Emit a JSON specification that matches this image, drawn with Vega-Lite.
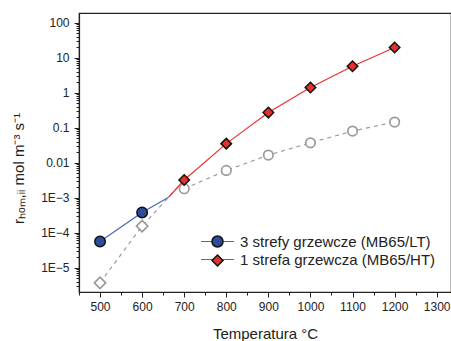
{
  "$schema": "https://vega.github.io/schema/vega-lite/v6.json",
  "width": 372,
  "height": 279,
  "autosize": {"type": "none"},
  "padding": {"left": 79, "top": 13, "right": 0, "bottom": 49},
  "background": "white",
  "config": {
    "view": {"stroke": "#222", "strokeWidth": 1.2},
    "font": "Liberation Sans",
    "legend": {"padding": 0},
    "axis": {"domainColor": "#222", "tickColor": "#222", "labelColor": "#222", "titleColor": "#222", "grid": false, "labelFont": "Liberation Sans", "titleFont": "Liberation Sans", "titleFontWeight": "normal"}
  },
  "data": {
    "values": [
      {"T": 500, "r": 0.000056, "s": "3 strefy grzewcze (MB65/LT)", "p": "3 strefy grzewcze (MB65/LT) ", "m": 1},
      {"T": 600, "r": 0.00038, "s": "3 strefy grzewcze (MB65/LT)", "p": "3 strefy grzewcze (MB65/LT) ", "m": 1},
      {"T": 663, "r": 0.00103, "s": "3 strefy grzewcze (MB65/LT)", "p": "3 strefy grzewcze (MB65/LT) ", "m": 0},
      {"T": 663, "r": 0.00103, "s": "1 strefa grzewcza (MB65/HT)", "p": "1 strefa grzewcza (MB65/HT) ", "m": 0},
      {"T": 700, "r": 0.0032, "s": "1 strefa grzewcza (MB65/HT)", "p": "1 strefa grzewcza (MB65/HT) ", "m": 1},
      {"T": 800, "r": 0.035, "s": "1 strefa grzewcza (MB65/HT)", "p": "1 strefa grzewcza (MB65/HT) ", "m": 1},
      {"T": 900, "r": 0.27, "s": "1 strefa grzewcza (MB65/HT)", "p": "1 strefa grzewcza (MB65/HT) ", "m": 1},
      {"T": 1000, "r": 1.4, "s": "1 strefa grzewcza (MB65/HT)", "p": "1 strefa grzewcza (MB65/HT) ", "m": 1},
      {"T": 1100, "r": 5.7, "s": "1 strefa grzewcza (MB65/HT)", "p": "1 strefa grzewcza (MB65/HT) ", "m": 1},
      {"T": 1200, "r": 19.5, "s": "1 strefa grzewcza (MB65/HT)", "p": "1 strefa grzewcza (MB65/HT) ", "m": 1},
      {"T": 500, "r": 0.0000037, "s": "grayD", "p": "grayD", "m": 1},
      {"T": 600, "r": 0.000154, "s": "grayD", "p": "grayD", "m": 1},
      {"T": 700, "r": 0.0032, "s": "grayD", "p": "grayD", "m": 0},
      {"T": 700, "r": 0.0018, "s": "grayC", "p": "grayC", "m": 1},
      {"T": 800, "r": 0.006, "s": "grayC", "p": "grayC", "m": 1},
      {"T": 900, "r": 0.0165, "s": "grayC", "p": "grayC", "m": 1},
      {"T": 1000, "r": 0.037, "s": "grayC", "p": "grayC", "m": 1},
      {"T": 1100, "r": 0.08, "s": "grayC", "p": "grayC", "m": 1},
      {"T": 1200, "r": 0.145, "s": "grayC", "p": "grayC", "m": 1}
    ]
  },
  "resolve": {"axis": {"x": "independent", "y": "independent"}},
  "layer": [
    {
      "transform": [{"filter": "datum.s == 'grayD' || datum.s == 'grayC'"}],
      "mark": {"type": "line", "color": "#9a9a9a", "strokeWidth": 1.2, "strokeDash": [4, 4]},
      "encoding": {
        "x": {"field": "T", "type": "quantitative", "scale": {"domain": [450, 1334], "nice": false, "zero": false},
          "axis": {"orient": "bottom", "values": [450, 550, 650, 750, 850, 950, 1050, 1150, 1250], "labels": false, "tickSize": 3, "domain": false, "title": null}},
        "y": {"field": "r", "type": "quantitative", "scale": {"type": "log", "domain": [0.00000202, 189], "nice": false},
          "axis": {"orient": "left", "values": [0.000003, 0.000004, 0.000005, 0.000006, 0.000007, 0.000008, 0.000009, 0.00002, 0.00003, 0.00004, 0.00005, 0.00006, 0.00007, 0.00008, 0.00009, 0.0002, 0.0003, 0.0004, 0.0005, 0.0006, 0.0007, 0.0008, 0.0009, 0.002, 0.003, 0.004, 0.005, 0.006, 0.007, 0.008, 0.009, 0.02, 0.03, 0.04, 0.05, 0.06, 0.07, 0.08, 0.09, 0.2, 0.3, 0.4, 0.5, 0.6, 0.7, 0.8, 0.9, 2, 3, 4, 5, 6, 7, 8, 9, 20, 30, 40, 50, 60, 70, 80, 90], "labels": false, "tickSize": 3, "domain": false, "title": null}},
        "detail": {"field": "s"}
      }
    },
    {
      "transform": [{"filter": "datum.s != 'grayD' && datum.s != 'grayC'"}],
      "mark": {"type": "line", "strokeWidth": 1.2},
      "encoding": {
        "x": {"field": "T", "type": "quantitative",
          "axis": {"orient": "bottom", "values": [500, 600, 700, 800, 900, 1000, 1100, 1200, 1300], "format": "d", "tickSize": 5, "labelFontSize": 12, "labelPadding": 4, "title": "Temperatura °C", "titleFontSize": 15, "titlePadding": 14, "domainWidth": 1.2}},
        "y": {"field": "r", "type": "quantitative",
          "axis": {"orient": "left", "values": [0.00001, 0.0001, 0.001, 0.01, 0.1, 1, 10, 100], "tickSize": 5, "labelFontSize": 12, "labelPadding": 5,
            "labelExpr": "datum.value >= 0.01 ? format(datum.value, '~g') : '1E' + format(round(log(datum.value) / LN10), 'd')",
            "title": "rₕₒₘ,ᵢᵢ  mol m⁻³ s⁻¹", "titleFontSize": 15, "titlePadding": 14, "titleY": 155, "domainWidth": 1.2}},
        "stroke": {"field": "s", "type": "nominal", "sort": null,
          "scale": {"domain": ["3 strefy grzewcze (MB65/LT)", "1 strefa grzewcza (MB65/HT)"], "range": ["#4a64c0", "#f03030"]},
          "legend": {"orient": "none", "legendX": 131, "legendY": 221, "title": null, "symbolType": "M-3,0H3", "symbolSize": 121, "symbolStrokeWidth": 1.2, "labelFontSize": 15, "labelColor": "#222", "labelOffset": 15, "labelLimit": 400, "rowPadding": 2}}
      }
    },
    {
      "transform": [{"filter": "datum.s == 'grayD' && datum.m == 1"}],
      "mark": {"type": "point", "shape": "diamond", "filled": true, "fill": "white", "fillOpacity": 1, "opacity": 1, "stroke": "#9a9a9a", "strokeWidth": 1.7, "size": 130},
      "encoding": {"x": {"field": "T", "type": "quantitative", "axis": null}, "y": {"field": "r", "type": "quantitative", "axis": null}}
    },
    {
      "transform": [{"filter": "datum.s == 'grayC' && datum.m == 1"}],
      "mark": {"type": "point", "shape": "circle", "filled": true, "fill": "white", "fillOpacity": 1, "opacity": 1, "stroke": "#9a9a9a", "strokeWidth": 1.7, "size": 90},
      "encoding": {"x": {"field": "T", "type": "quantitative", "axis": null}, "y": {"field": "r", "type": "quantitative", "axis": null}}
    },
    {
      "transform": [{"filter": "datum.s != 'grayD' && datum.s != 'grayC' && datum.m == 1"}],
      "mark": {"type": "point", "filled": true, "stroke": "#111", "strokeWidth": 1.5, "opacity": 1, "size": 110},
      "encoding": {
        "x": {"field": "T", "type": "quantitative", "axis": null},
        "y": {"field": "r", "type": "quantitative", "axis": null},
        "fill": {"field": "p", "type": "nominal", "sort": null,
          "scale": {"domain": ["3 strefy grzewcze (MB65/LT) ", "1 strefa grzewcza (MB65/HT) "], "range": ["#2c4c9c", "#e8302a"]},
          "legend": {"orient": "none", "legendX": 131, "legendY": 221, "title": null, "symbolSize": 121, "labelFontSize": 15, "labelColor": "transparent", "labelOffset": 15, "labelLimit": 400, "rowPadding": 2,
            "encode": {"symbols": {"update": {"stroke": {"value": "#111"}, "strokeWidth": {"value": 1.5}}}}}},
        "shape": {"field": "p", "type": "nominal", "sort": null,
          "scale": {"domain": ["3 strefy grzewcze (MB65/LT) ", "1 strefa grzewcza (MB65/HT) "], "range": ["circle", "diamond"]},
          "legend": {"orient": "none", "legendX": 131, "legendY": 221, "title": null, "symbolSize": 121, "labelFontSize": 15, "labelColor": "transparent", "labelOffset": 15, "labelLimit": 400, "rowPadding": 2,
            "encode": {"symbols": {"update": {"stroke": {"value": "#111"}, "strokeWidth": {"value": 1.5}}}}}}
      }
    }
  ]
}
